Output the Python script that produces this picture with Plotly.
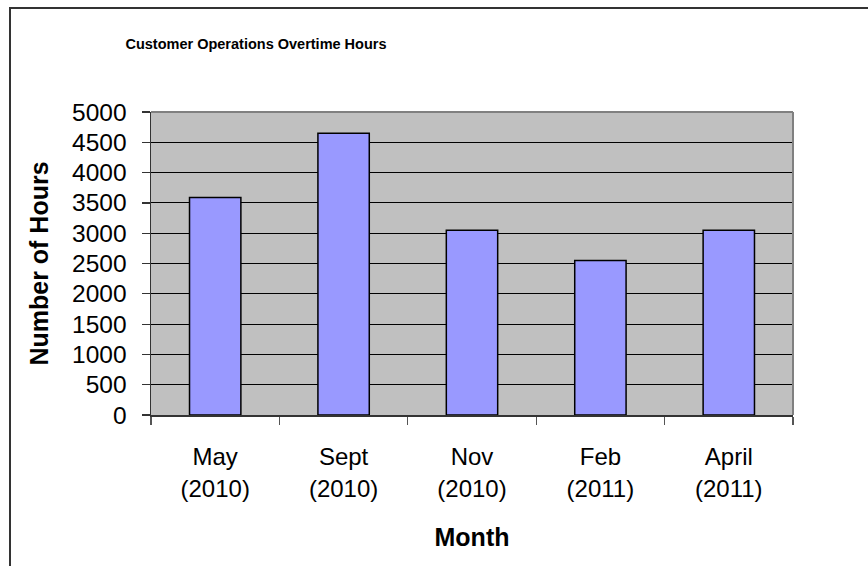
import plotly.graph_objects as go

months = ["May<br>(2010)", "Sept<br>(2010)", "Nov<br>(2010)", "Feb<br>(2011)", "April<br>(2011)"]
hours = [3590, 4650, 3050, 2550, 3050]
y_ticks = [0, 500, 1000, 1500, 2000, 2500, 3000, 3500, 4000, 4500, 5000]

W, H = 868, 566
L, R, T, B = 151, 75, 112, 151
pw, ph = W - L - R, H - T - B

fig = go.Figure(go.Bar(
    x=months, y=hours,
    marker=dict(color="#9999FF", line=dict(color="#000000", width=1.5)),
    hoverinfo="skip",
))

font = "Liberation Sans, Arial, sans-serif"
fig.update_layout(
    width=W, height=H,
    margin=dict(l=L, r=R, t=T, b=B, autoexpand=False),
    paper_bgcolor="white", plot_bgcolor="#C0C0C0",
    bargap=0.6, showlegend=False,
    font=dict(family=font, color="black"),
    title=dict(text="<b>Customer Operations Overtime Hours</b>",
               font=dict(family=font, size=14.5, color="black"),
               x=256 / W, xref="container", xanchor="center",
               y=1 - 44 / H, yref="container", yanchor="middle"),
)
fig.update_yaxes(
    range=[0, 5000], tickvals=y_ticks, showgrid=True, gridcolor="#000000", gridwidth=1,
    showline=True, linecolor="#333333", linewidth=1.5,
    ticks="outside", ticklen=8, tickcolor="#333333", tickwidth=1.2,
    tickfont=dict(size=24.5, family=font), ticklabelstandoff=10,
    title=dict(text="<b>Number of Hours</b>", font=dict(size=25, family=font), standoff=16),
    zeroline=False, fixedrange=True, automargin=False,
)
fig.update_xaxes(
    tickson="boundaries", ticks="outside", ticklen=8, tickcolor="#555555", tickwidth=1.2,
    showline=True, linecolor="#333333", linewidth=1.5,
    tickfont=dict(size=24, family=font), ticklabelstandoff=20,
    title=dict(text="<b>Month</b>", font=dict(size=25, family=font), standoff=28),
    fixedrange=True, automargin=False,
)
# grey plot-area border on top and right
fig.add_shape(type="line", xref="paper", yref="paper", x0=0, x1=1, y0=1, y1=1,
              line=dict(color="#808080", width=2), layer="above")
fig.add_shape(type="line", xref="paper", yref="paper", x0=1, x1=1, y0=0, y1=1,
              line=dict(color="#808080", width=2), layer="above")
# outer chart frame
fig.add_shape(type="rect", xref="paper", yref="paper",
              x0=(10 - L) / pw, x1=(W + 20 - L) / pw,
              y0=-(H + 20 - (H - B)) / ph, y1=((H - B) - 8) / ph,
              line=dict(color="#333333", width=2), fillcolor="rgba(0,0,0,0)", layer="below")

fig.write_html("out.html", config={"displayModeBar": False, "staticPlot": True},
               post_script="document.body.style.margin='0px';")
